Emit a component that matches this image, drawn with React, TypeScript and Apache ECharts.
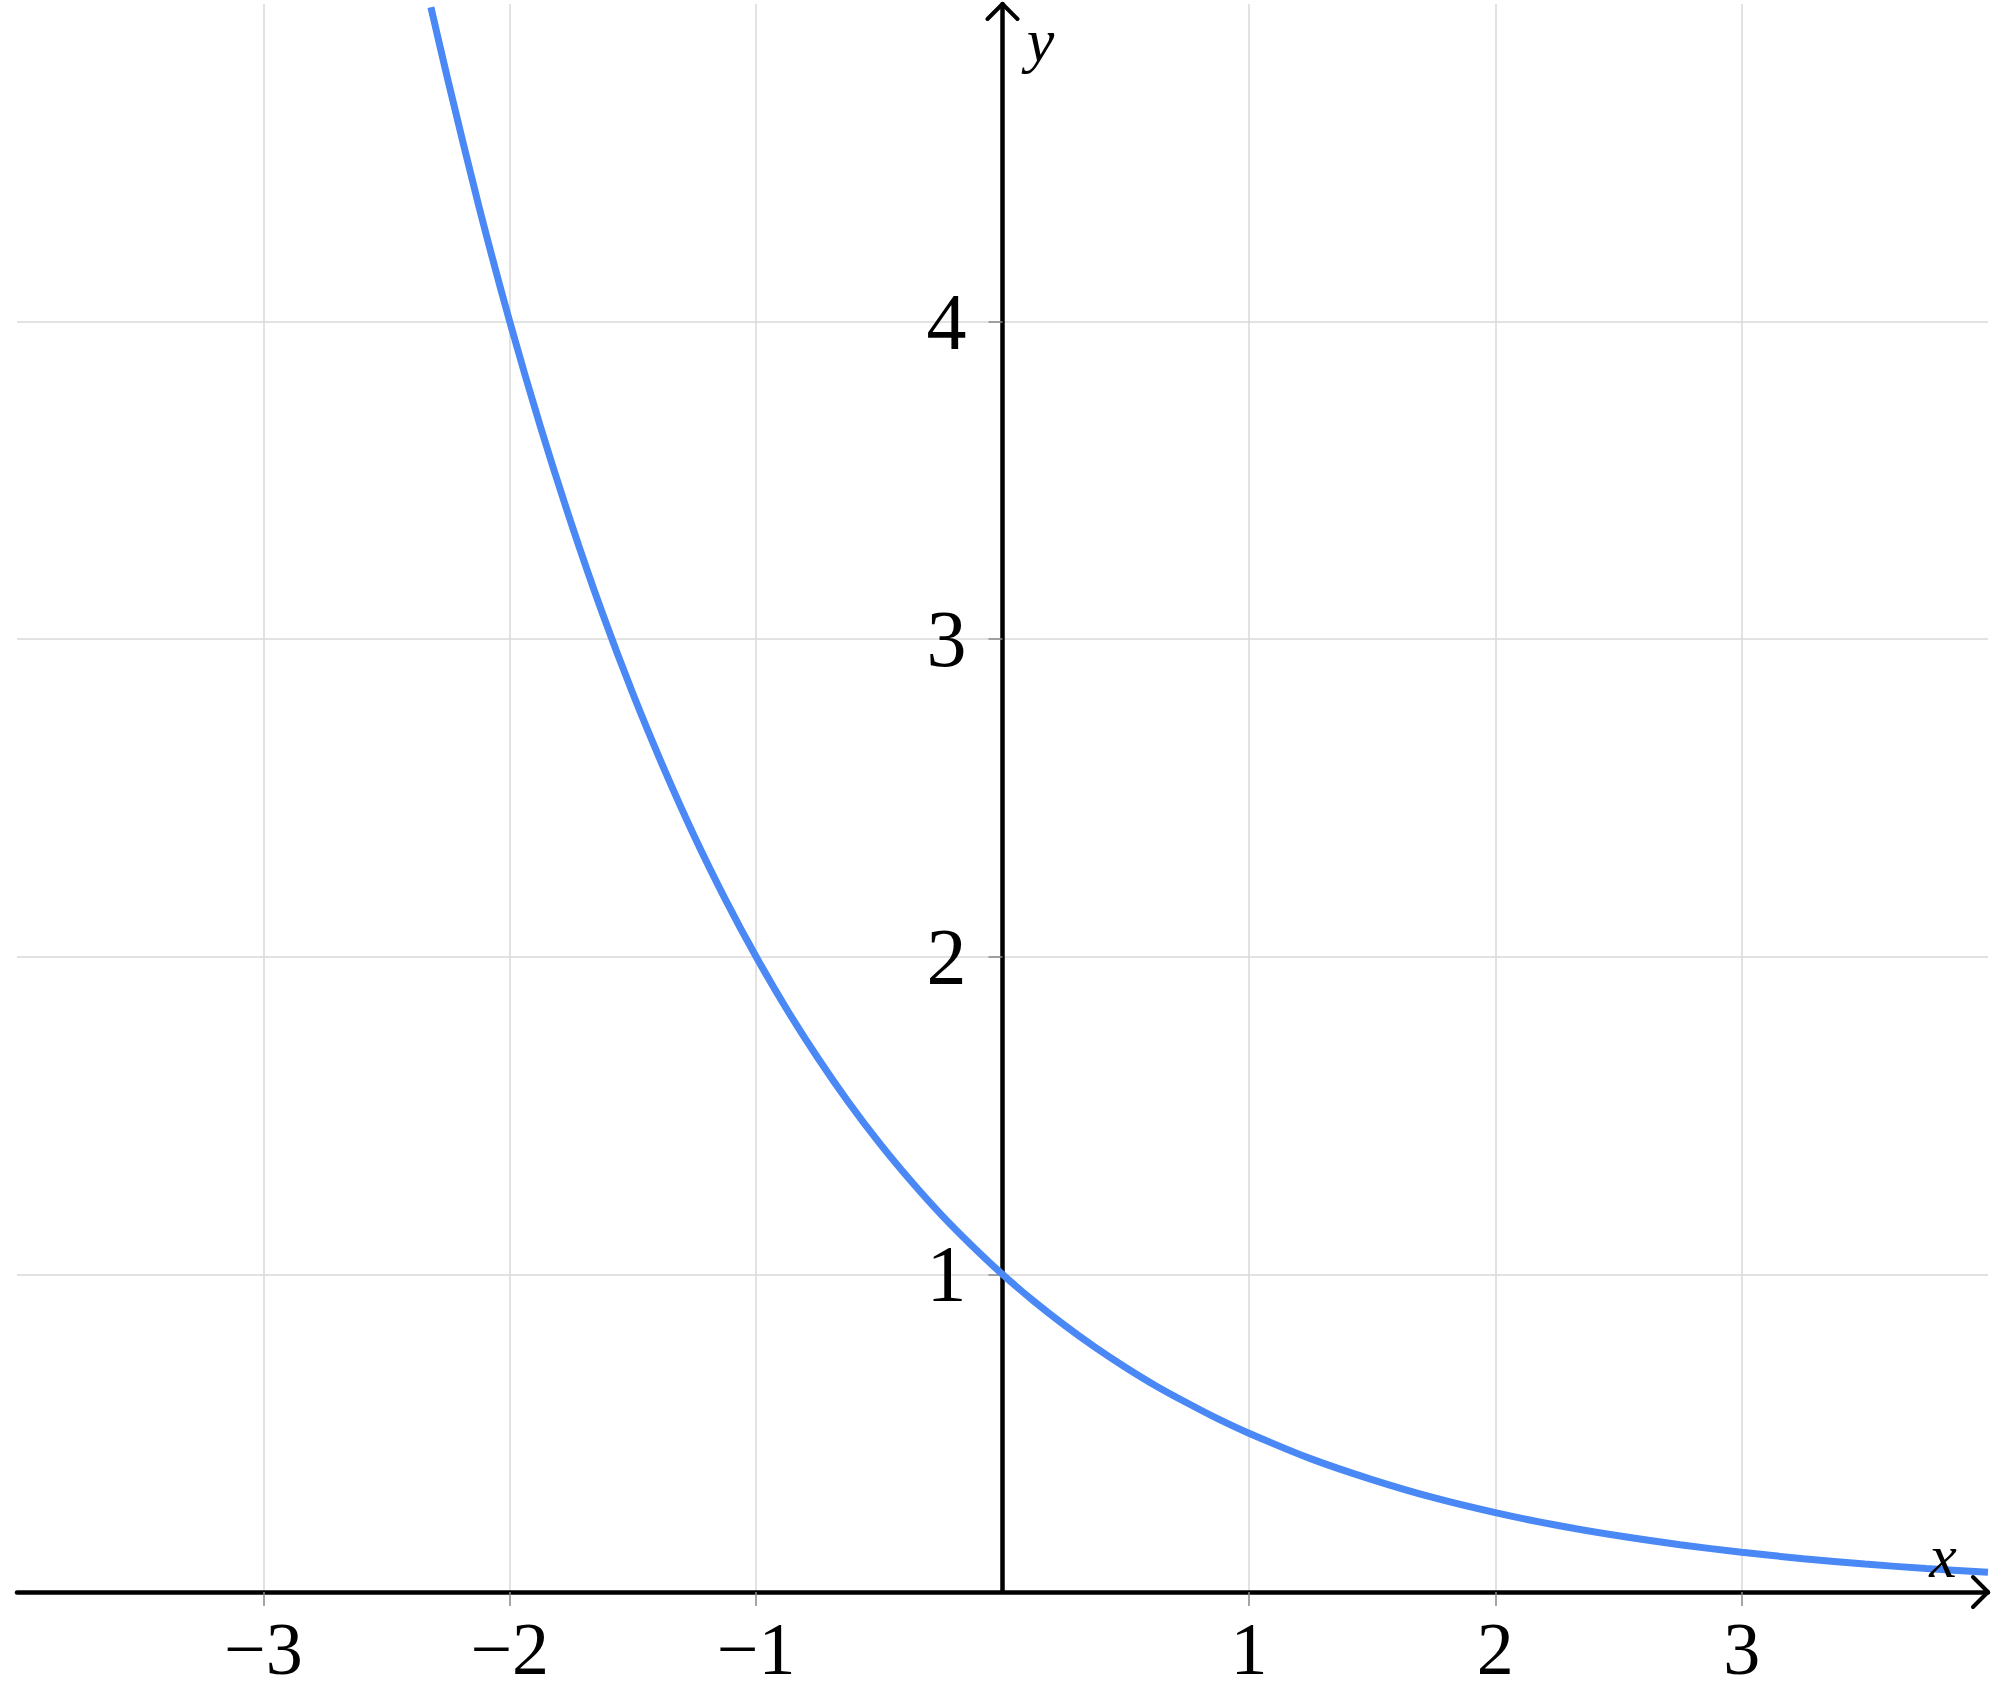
import React, { useEffect, useRef } from "react";
import * as echarts from "echarts";

const xValues = [-2.32, -2.25, -2.125, -2, -1.875, -1.75, -1.625, -1.5, -1.375, -1.25, -1.125, -1, -0.875, -0.75, -0.625, -0.5, -0.375, -0.25, -0.125, 0, 0.125, 0.25, 0.375, 0.5, 0.625, 0.75, 0.875, 1, 1.25, 1.5, 1.75, 2, 2.25, 2.5, 2.75, 3, 3.25, 3.5, 3.75, 4];
const yValues = [4.99, 4.757, 4.362, 4.0, 3.668, 3.364, 3.084, 2.828, 2.594, 2.378, 2.181, 2.0, 1.834, 1.682, 1.542, 1.414, 1.297, 1.189, 1.091, 1.0, 0.917, 0.841, 0.771, 0.707, 0.648, 0.595, 0.545, 0.5, 0.42, 0.354, 0.297, 0.25, 0.21, 0.177, 0.149, 0.125, 0.105, 0.088, 0.074, 0.0625];
const xTicks = [-3, -2, -1, 1, 2, 3];
const yTicks = [1, 2, 3, 4];
const xRange = [-4, 4];
const yRange = [0, 5];

const FONT = "'Liberation Serif', 'DejaVu Serif', serif";
const fmt = (v: number) => (v < 0 ? "\u2212" + Math.abs(v) : String(v));

const GRID = { left: 17, right: 4, top: 4, bottom: 100 };

export default function App() {
  const ref = useRef<HTMLDivElement>(null);
  useEffect(() => {
    if (!ref.current) return;
    const chart = echarts.init(ref.current, undefined, { renderer: "svg" });
    const splitLine = { show: true, lineStyle: { color: "#d8d8d8", width: 1.5 } };
    const tick = { show: true, length: 14, lineStyle: { color: "#888", width: 1.5 } };
    const option: any = {
      animation: false,
      backgroundColor: "#ffffff",
      grid: { ...GRID, outerBoundsMode: "none", containLabel: false },
      xAxis: {
        type: "value",
        position: "bottom",
        min: xRange[0],
        max: xRange[1],
        interval: 1,
        axisLine: { onZero: false, lineStyle: { color: "#000", width: 4.5 } },
        axisTick: { ...tick, customValues: xTicks },
        axisLabel: {
          customValues: xTicks,
          formatter: fmt,
          fontFamily: FONT,
          fontSize: 74,
          lineHeight: 56,
          color: "#000",
          margin: 29,
        },
        splitLine,
      },
      yAxis: {
        type: "value",
        position: "left",
        offset: 0,
        min: yRange[0],
        max: yRange[1],
        interval: 1,
        axisLine: { onZero: false, lineStyle: { color: "#000", width: 4.5 } },
        axisTick: { ...tick, customValues: yTicks },
        axisLabel: {
          customValues: yTicks,
          formatter: fmt,
          fontFamily: FONT,
          fontSize: 80,
          color: "#000",
          margin: 36,
        },
        splitLine,
      },
      series: [
        {
          type: "line",
          data: xValues.map((x, i) => [x, yValues[i]]),
          smooth: 0.3,
          showSymbol: false,
          clip: true,
          lineStyle: { color: "#4a88f5", width: 7 },
          z: 5,
        },
      ],
    };
    chart.setOption(option);
    const zeroX = chart.convertToPixel({ xAxisIndex: 0 }, 0) as number;
    chart.setOption({ yAxis: { offset: -(zeroX - GRID.left) } });
    const top = chart.convertToPixel({ gridIndex: 0 }, [0, yRange[1]]) as number[];
    const right = chart.convertToPixel({ gridIndex: 0 }, [xRange[1], 0]) as number[];
    const arrowStyle = { stroke: "#000", lineWidth: 4, fill: "none", lineCap: "round", lineJoin: "round" };
    chart.setOption({
      graphic: [
        {
          type: "polyline",
          shape: { points: [[top[0] - 15, top[1] + 15], [top[0], top[1]], [top[0] + 15, top[1] + 15]] },
          style: arrowStyle,
          z: 10,
        },
        {
          type: "polyline",
          shape: { points: [[right[0] - 15, right[1] - 15], [right[0], right[1]], [right[0] - 15, right[1] + 15]] },
          style: arrowStyle,
          z: 10,
        },
        {
          type: "text",
          x: top[0] + 38,
          y: top[1] + 36,
          style: { text: "y", font: `italic 62px ${FONT}`, fill: "#000", align: "center", verticalAlign: "middle" },
          z: 10,
        },
        {
          type: "text",
          x: right[0] - 45,
          y: right[1] - 36,
          style: { text: "x", font: `italic 62px ${FONT}`, fill: "#000", align: "center", verticalAlign: "middle" },
          z: 10,
        },
      ],
    });
    return () => chart.dispose();
  }, []);
  return <div ref={ref} style={{ position: "absolute", left: 0, top: 0, width: 1992, height: 1692 }} />;
}
